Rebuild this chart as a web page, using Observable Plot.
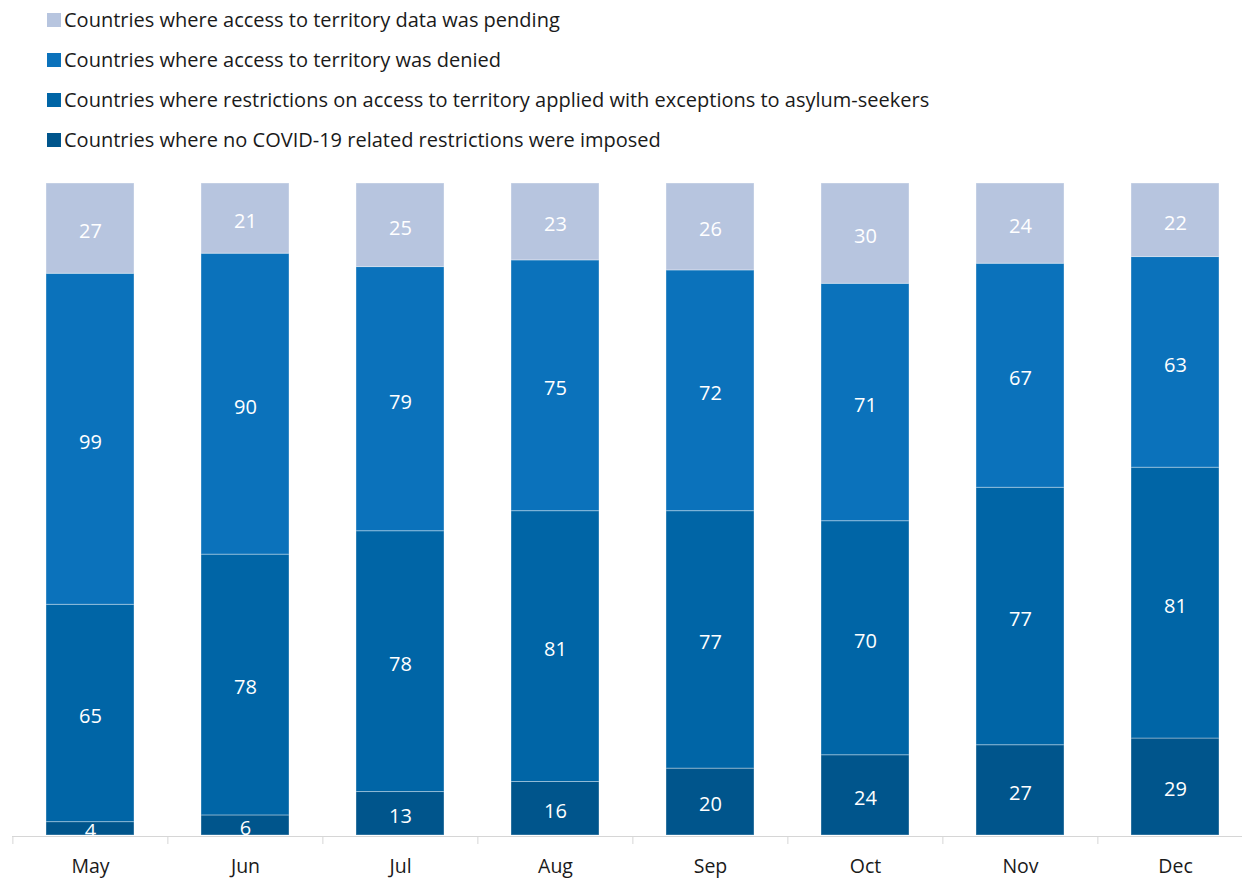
<!DOCTYPE html>
<html>
<head>
<meta charset="utf-8">
<script src="https://cdn.jsdelivr.net/npm/d3@7"></script>
<script src="https://cdn.jsdelivr.net/npm/@observablehq/plot@0.6"></script>
<style>
  html, body { margin: 0; padding: 0; background: #fff; }
  body { width: 1242px; height: 880px; overflow: hidden; font-family: "Open Sans", Lato, sans-serif; }
  #legend { height: 160px; padding-left: 47px; box-sizing: border-box; }
  .item { height: 40px; line-height: 40px; font-size: 20px; color: #1a1a1a; display: flex; align-items: center; }
  .sw { width: 14px; height: 14px; margin-right: 3px; flex: none; }
  #chart svg { display: block; overflow: visible; }
</style>
</head>
<body>
<div id="legend"></div>
<div id="chart"></div>
<script>
const months = ["May", "Jun", "Jul", "Aug", "Sep", "Oct", "Nov", "Dec"];
const categories = [
  "Countries where no COVID-19 related restrictions were imposed",
  "Countries where restrictions on access to territory applied with exceptions to asylum-seekers",
  "Countries where access to territory was denied",
  "Countries where access to territory data was pending"
];
const colors = ["#00558c", "#0065a6", "#0b72bb", "#b7c5df"];
const noRestrictions = [4, 6, 13, 16, 20, 24, 27, 29];
const withExceptions = [65, 78, 78, 81, 77, 70, 77, 81];
const denied = [99, 90, 79, 75, 72, 71, 67, 63];
const pending = [27, 21, 25, 23, 26, 30, 24, 22];

const seriesValues = [noRestrictions, withExceptions, denied, pending];
const data = [];
months.forEach((m, i) => {
  categories.forEach((c, k) => data.push({month: m, category: c, value: seriesValues[k][i]}));
});

// legend (top to bottom: pending -> none)
const legend = document.getElementById("legend");
[...categories].reverse().forEach((c) => {
  const k = categories.indexOf(c);
  const div = document.createElement("div");
  div.className = "item";
  div.innerHTML = `<span class="sw" style="background:${colors[k]}"></span><span>${c}</span>`;
  legend.appendChild(div);
});

const W = 1242;
const xRange = [12, 1254];
const step = (xRange[1] - xRange[0]) / months.length;

const chart = Plot.plot({
  width: W,
  height: 720,
  marginTop: 23,
  marginBottom: 45,
  marginLeft: 12,
  marginRight: 0,
  style: {fontFamily: "'Open Sans', Lato, sans-serif", fontSize: "19px", color: "#1a1a1a", overflow: "visible"},
  x: {domain: months, range: xRange, paddingInner: 0.43, paddingOuter: 0.215, label: null},
  y: {domain: [0, 195], axis: null},
  color: {domain: categories, range: colors},
  marks: [
    Plot.barY(data, Plot.stackY({
      x: "month", y: "value", z: "category", fill: "category", order: categories,
      stroke: "#ffffff", strokeOpacity: 0.35, strokeWidth: 1
    })),
    Plot.text(data, Plot.stackY({
      x: "month", y: "value", z: "category", order: categories,
      text: (d) => String(d.value), fill: "#ffffff", fontSize: 20, dy: 3
    })),
    Plot.ruleY([0], {stroke: "#d6d6d6", strokeWidth: 1, dy: 1}),
    Plot.ruleX(months, {x: (d) => d, y1: 0, y2: 0, insetBottom: -8, dx: -step / 2, dy: 1, stroke: "#d6d6d6", strokeWidth: 1}),
    Plot.axisX({tickSize: 0, tickPadding: 24, fontSize: 19.5, fill: "#1a1a1a"})
  ]
});
document.getElementById("chart").appendChild(chart);
</script>
</body>
</html>
